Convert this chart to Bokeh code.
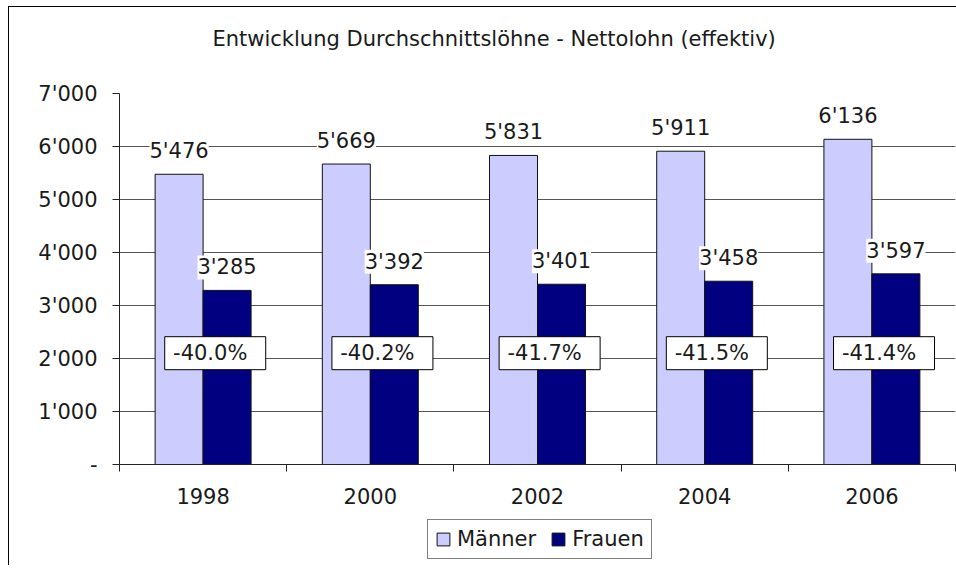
from bokeh.plotting import figure
from bokeh.layouts import column
from bokeh.models import ColumnDataSource, Range1d, FixedTicker, LabelSet, Legend, Label
from bokeh.transform import dodge
from bokeh.core.properties import value
from bokeh.embed import file_html
from bokeh.resources import INLINE

# ---- data ----
years = ["1998", "2000", "2002", "2004", "2006"]
maenner = [5476, 5669, 5831, 5911, 6136]
frauen = [3285, 3392, 3401, 3458, 3597]
diff_pct = ["-40.0%", "-40.2%", "-41.7%", "-41.5%", "-41.4%"]
y_ticks = [0, 1000, 2000, 3000, 4000, 5000, 6000, 7000]
y_tick_labels = ["-", "1'000", "2'000", "3'000", "4'000", "5'000", "6'000", "7'000"]
series_names = ["Männer", "Frauen"]
title_text = "Entwicklung Durchschnittslöhne - Nettolohn (effektiv)"

# ---- style ----
FONT = "DejaVu Sans"
FS = "21px"
BW = 0.287
PCT_Y = 2100
PCT_DX = 0.0725
TXT = "#1a1a1a"
C_M = "#CCCCFF"
C_F = "#000080"
EDGE = "#111111"
W = 947


def fmt(v):
    return f"{v:,}".replace(",", "'")


def strip(h):
    f = figure(width=W, height=h, x_range=Range1d(0, 1), y_range=Range1d(0, 1),
               output_backend="svg", toolbar_location=None, min_border=0)
    f.axis.visible = False
    f.grid.grid_line_color = None
    f.outline_line_color = None
    return f


xs = [i + 0.5 for i in range(len(years))]
src = ColumnDataSource(dict(
    x=xs, m=maenner, f=frauen,
    ml=[fmt(v) for v in maenner], fl=[fmt(v) for v in frauen],
    pct=diff_pct, pct_y=[PCT_Y] * len(years),
))

# ---- title strip ----
pt = strip(70)
pt.add_layout(Label(x=93, y=39, x_units="screen", y_units="screen", text=title_text,
                    text_font=FONT, text_font_size="21px", text_color=TXT,
                    text_baseline="middle", text_align="left"))

# ---- main chart ----
p = figure(width=W, height=436, x_range=Range1d(0, len(years)), y_range=Range1d(0, 7000),
           output_backend="svg", toolbar_location=None, title=None,
           min_border_left=110, min_border_right=1, min_border_top=16, min_border_bottom=49)
p.outline_line_color = None
p.background_fill_color = "white"
p.border_fill_color = "white"

r_m = p.vbar(x=dodge("x", -BW / 2, range=p.x_range), top="m", width=BW, source=src,
             fill_color=C_M, line_color=EDGE, line_width=1)
r_f = p.vbar(x=dodge("x", BW / 2, range=p.x_range), top="f", width=BW, source=src,
             fill_color=C_F, line_color=EDGE, line_width=1)

lbl_kw = dict(source=src, text_align="center", text_baseline="middle", text_font=value(FONT),
              text_font_size=FS, text_color=TXT)
p.add_layout(LabelSet(x=dodge("x", -BW / 2, range=p.x_range), y="m", text="ml", y_offset=23,
                      background_fill_color="white", **lbl_kw))
p.add_layout(LabelSet(x=dodge("x", BW / 2, range=p.x_range), y="f", text="fl", y_offset=23,
                      background_fill_color="white", **lbl_kw))

# percentage boxes
p.rect(x=dodge("x", PCT_DX, range=p.x_range), y="pct_y", width=101, height=33,
       width_units="screen", height_units="screen", source=src,
       fill_color="white", line_color="black", line_width=1)
p.add_layout(LabelSet(x=dodge("x", PCT_DX, range=p.x_range), y="pct_y", text="pct", x_offset=-5,
                      **lbl_kw))

# axes
xa = p.xaxis[0]
xa.ticker = FixedTicker(ticks=xs, minor_ticks=list(range(len(years) + 1)))
xa.major_label_overrides = {x: y for x, y in zip(xs, years)}
xa.major_tick_line_color = None
xa.minor_tick_line_color = "#222222"
xa.minor_tick_out = 7
xa.minor_tick_in = 0
xa.major_label_standoff = 16
ya = p.yaxis[0]
ya.ticker = FixedTicker(ticks=y_ticks)
ya.major_label_overrides = {t: l for t, l in zip(y_ticks, y_tick_labels)}
ya.minor_tick_line_color = None
ya.major_tick_line_color = "#222222"
ya.major_tick_out = 7
ya.major_tick_in = 0
ya.major_label_standoff = 15
for ax in (xa, ya):
    ax.axis_line_color = "#222222"
    ax.major_label_text_font = FONT
    ax.major_label_text_font_size = FS
    ax.major_label_text_color = TXT

p.xgrid.grid_line_color = None
p.ygrid.ticker = FixedTicker(ticks=y_ticks)
p.ygrid.grid_line_color = "#555555"

# ---- legend strip ----
pl = strip(52)
lm = pl.vbar(x=[0.5], top=[-1], bottom=[-2], width=0.1, fill_color=C_M, line_color=EDGE)
lf = pl.vbar(x=[0.5], top=[-1], bottom=[-2], width=0.1, fill_color=C_F, line_color=EDGE)
legend = Legend(items=[(series_names[0], [lm]), (series_names[1], [lf])], orientation="horizontal",
                location=(308, 6), border_line_color="black", label_text_font=FONT,
                label_text_font_size=FS, label_text_color=TXT, glyph_width=16, glyph_height=16,
                label_standoff=6, spacing=14, padding=7, margin=0)
pl.add_layout(legend)

layout = column(pt, p, pl, spacing=0,
                styles={"border-left": "1px solid black", "border-top": "1px solid black",
                        "margin-left": "8px", "margin-top": "6px"})

open("out.html", "w").write(file_html(layout, INLINE))
